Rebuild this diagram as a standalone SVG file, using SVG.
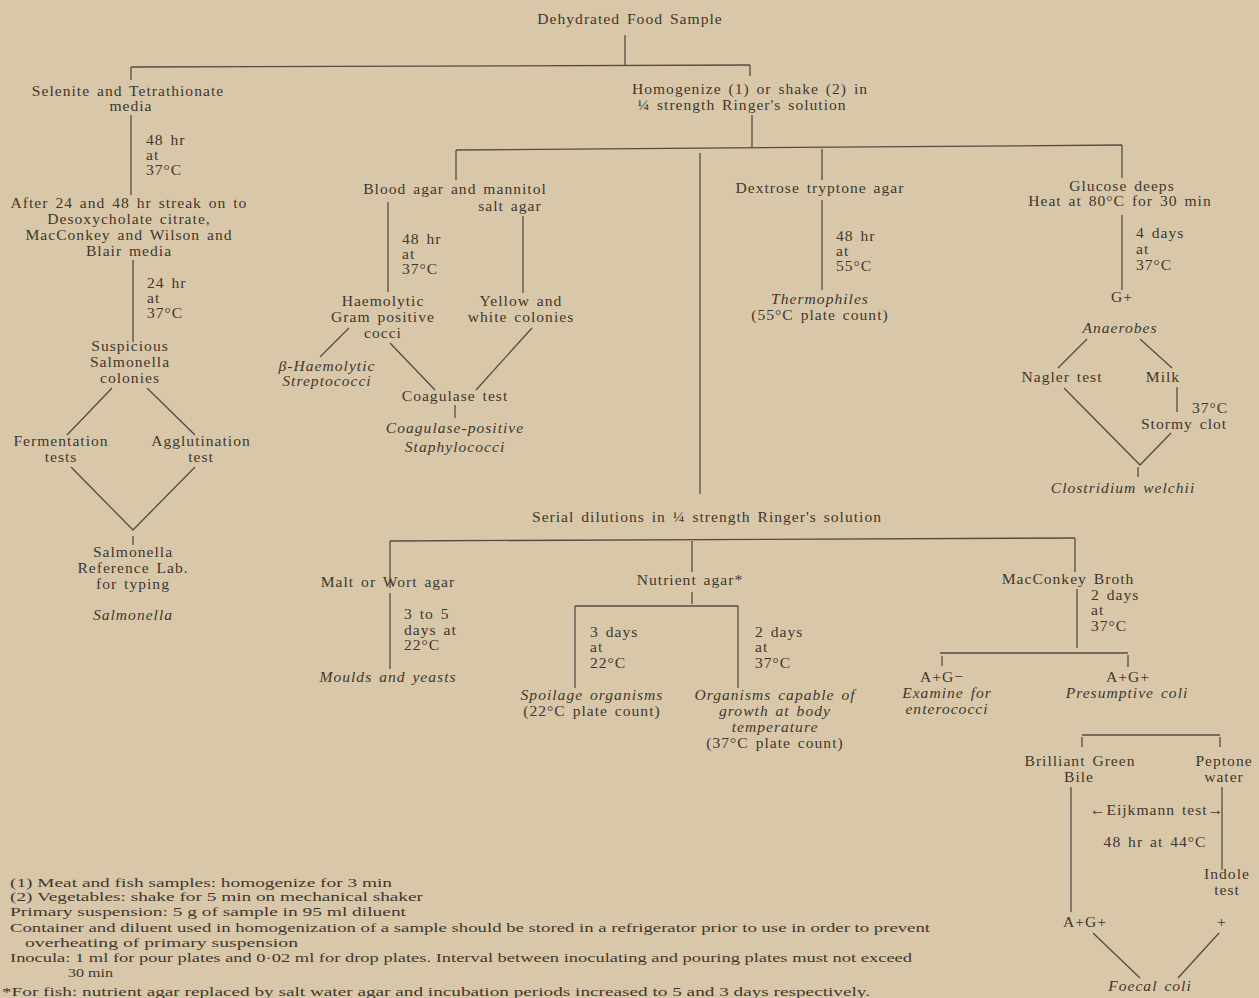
<svg xmlns="http://www.w3.org/2000/svg" width="1259" height="998" viewBox="0 0 1259 998">
<style>
text{font-family:"Liberation Serif","DejaVu Serif",serif;font-size:15.6px;fill:#41372e;letter-spacing:1px;word-spacing:2px}
.m{text-anchor:middle}
.i{font-style:italic}
.f{font-size:13.5px;letter-spacing:0;word-spacing:0}
#connectors line,#connectors polyline{stroke:#554b42;stroke-width:1.3;fill:none}
</style>
<rect width="1259" height="998" fill="#d8c8a9"/>
<g id="connectors">
<line x1="625" y1="35" x2="625" y2="66"/>
<line x1="131" y1="67" x2="750" y2="65"/>
<line x1="131" y1="67" x2="131" y2="80"/>
<line x1="750" y1="65" x2="750" y2="76"/>
<line x1="131" y1="115" x2="131" y2="195"/>
<line x1="133" y1="260" x2="133" y2="342"/>
<line x1="112" y1="388" x2="67" y2="435"/>
<line x1="147" y1="388" x2="195" y2="435"/>
<polyline points="71,467 133,530 195,467"/>
<line x1="133" y1="536" x2="133" y2="545"/>
<line x1="752" y1="115" x2="752" y2="147"/>
<line x1="456" y1="150" x2="1122" y2="145"/>
<line x1="456" y1="150" x2="456" y2="180"/>
<line x1="700" y1="153" x2="700" y2="494"/>
<line x1="822" y1="149" x2="822" y2="180"/>
<line x1="1122" y1="145" x2="1122" y2="178"/>
<line x1="388" y1="202" x2="388" y2="292"/>
<line x1="523" y1="216" x2="523" y2="293"/>
<line x1="349" y1="328" x2="320" y2="357"/>
<line x1="390" y1="343" x2="435" y2="390"/>
<line x1="532" y1="328" x2="476" y2="390"/>
<line x1="455" y1="405" x2="455" y2="418"/>
<line x1="822" y1="200" x2="822" y2="290"/>
<line x1="1122" y1="215" x2="1122" y2="290"/>
<line x1="1087" y1="339" x2="1058" y2="368"/>
<line x1="1140" y1="339" x2="1172" y2="368"/>
<line x1="1177" y1="387" x2="1177" y2="412"/>
<polyline points="1064,388 1140,465 1171,433"/>
<line x1="1138" y1="467" x2="1138" y2="477"/>
<line x1="390" y1="541" x2="1075" y2="538"/>
<line x1="390" y1="541" x2="390" y2="588"/>
<line x1="692" y1="541" x2="692" y2="572"/>
<line x1="1075" y1="538" x2="1075" y2="572"/>
<line x1="390" y1="593" x2="390" y2="669"/>
<line x1="692" y1="592" x2="692" y2="604"/>
<line x1="575" y1="606" x2="738" y2="606"/>
<line x1="575" y1="606" x2="575" y2="688"/>
<line x1="738" y1="606" x2="738" y2="688"/>
<line x1="1077" y1="589" x2="1077" y2="648"/>
<line x1="940" y1="653" x2="1128" y2="653"/>
<line x1="942" y1="656" x2="942" y2="666"/>
<line x1="1128" y1="655" x2="1128" y2="667"/>
<line x1="1082" y1="735" x2="1220" y2="735"/>
<line x1="1082" y1="737" x2="1082" y2="747"/>
<line x1="1220" y1="737" x2="1220" y2="747"/>
<line x1="1071" y1="787" x2="1071" y2="912"/>
<line x1="1222" y1="787" x2="1222" y2="870"/>
<line x1="1093" y1="933" x2="1140" y2="978"/>
<line x1="1219" y1="933" x2="1178" y2="978"/>
</g>
<g id="n-sample"><text class="m" x="630" y="24">Dehydrated Food Sample</text></g>
<g id="n-selenite"><text class="m" x="128" y="96">Selenite and Tetrathionate</text><text class="m" x="131" y="111">media</text></g>
<g id="l-48-37a"><text x="146" y="145">48 hr</text><text x="146" y="160">at</text><text x="146" y="175">37°C</text></g>
<g id="n-streak"><text class="m" x="129" y="208">After 24 and 48 hr streak on to</text><text class="m" x="129" y="224">Desoxycholate citrate,</text><text class="m" x="129" y="240">MacConkey and Wilson and</text><text class="m" x="129" y="256">Blair media</text></g>
<g id="l-24-37"><text x="147" y="288">24 hr</text><text x="147" y="303">at</text><text x="147" y="318">37°C</text></g>
<g id="n-suspicious"><text class="m" x="130" y="351">Suspicious</text><text class="m" x="130" y="367">Salmonella</text><text class="m" x="130" y="383">colonies</text></g>
<g id="n-ferment"><text class="m" x="61" y="446">Fermentation</text><text class="m" x="61" y="462">tests</text></g>
<g id="n-agglut"><text class="m" x="201" y="446">Agglutination</text><text class="m" x="201" y="462">test</text></g>
<g id="n-reflab"><text class="m" x="133" y="557">Salmonella</text><text class="m" x="133" y="573">Reference Lab.</text><text class="m" x="133" y="589">for typing</text><text class="m i" x="133" y="620">Salmonella</text></g>
<g id="n-homog"><text class="m" x="750" y="94">Homogenize (1) or shake (2) in</text><text class="m" x="742" y="110">¼ strength Ringer's solution</text></g>
<g id="n-blood"><text class="m" x="455" y="194">Blood agar and mannitol</text><text class="m" x="510" y="211">salt agar</text></g>
<g id="l-48-37b"><text x="402" y="244">48 hr</text><text x="402" y="259">at</text><text x="402" y="274">37°C</text></g>
<g id="n-haemo"><text class="m" x="383" y="306">Haemolytic</text><text class="m" x="383" y="322">Gram positive</text><text class="m" x="383" y="338">cocci</text></g>
<g id="n-yellow"><text class="m" x="521" y="306">Yellow and</text><text class="m" x="521" y="322">white colonies</text></g>
<g id="n-strep"><text class="m i" x="327" y="371">β-Haemolytic</text><text class="m i" x="327" y="386">Streptococci</text></g>
<g id="n-coag"><text class="m" x="455" y="401">Coagulase test</text></g>
<g id="n-staph"><text class="m i" x="455" y="433">Coagulase-positive</text><text class="m i" x="455" y="452">Staphylococci</text></g>
<g id="n-dextrose"><text class="m" x="820" y="193">Dextrose tryptone agar</text></g>
<g id="l-48-55"><text x="836" y="241">48 hr</text><text x="836" y="256">at</text><text x="836" y="271">55°C</text></g>
<g id="n-thermo"><text class="m i" x="820" y="304">Thermophiles</text><text class="m" x="820" y="320">(55°C plate count)</text></g>
<g id="n-glucose"><text class="m" x="1122" y="191">Glucose deeps</text><text class="m" x="1120" y="206">Heat at 80°C for 30 min</text></g>
<g id="l-4-37"><text x="1136" y="238">4 days</text><text x="1136" y="254">at</text><text x="1136" y="270">37°C</text></g>
<g id="n-gplus"><text class="m" x="1122" y="302">G+</text></g>
<g id="n-anaerobes"><text class="m i" x="1120" y="333">Anaerobes</text></g>
<g id="n-nagler"><text class="m" x="1062" y="382">Nagler test</text></g>
<g id="n-milk"><text class="m" x="1163" y="382">Milk</text></g>
<g id="l-37-milk"><text x="1192" y="413">37°C</text></g>
<g id="n-stormy"><text class="m" x="1184" y="429">Stormy clot</text></g>
<g id="n-clost"><text class="m i" x="1123" y="493">Clostridium welchii</text></g>
<g id="n-serial"><text class="m" x="707" y="522">Serial dilutions in ¼ strength Ringer's solution</text></g>
<g id="n-malt"><text class="m" x="388" y="587">Malt or Wort agar</text></g>
<g id="l-3-5"><text x="404" y="619">3 to 5</text><text x="404" y="635">days at</text><text x="404" y="650">22°C</text></g>
<g id="n-moulds"><text class="m i" x="388" y="682">Moulds and yeasts</text></g>
<g id="n-nutrient"><text class="m" x="690" y="585">Nutrient agar*</text></g>
<g id="l-3-22"><text x="590" y="637">3 days</text><text x="590" y="652">at</text><text x="590" y="668">22°C</text></g>
<g id="l-2-37a"><text x="755" y="637">2 days</text><text x="755" y="652">at</text><text x="755" y="668">37°C</text></g>
<g id="n-spoil"><text class="m i" x="592" y="700">Spoilage organisms</text><text class="m" x="592" y="716">(22°C plate count)</text></g>
<g id="n-body"><text class="m i" x="775" y="700">Organisms capable of</text><text class="m i" x="775" y="716">growth at body</text><text class="m i" x="775" y="732">temperature</text><text class="m" x="775" y="748">(37°C plate count)</text></g>
<g id="n-macconkey"><text class="m" x="1068" y="584">MacConkey Broth</text></g>
<g id="l-2-37b"><text x="1091" y="600">2 days</text><text x="1091" y="615">at</text><text x="1091" y="631">37°C</text></g>
<g id="n-agminus"><text class="m" x="942" y="682">A+G−</text><text class="m i" x="947" y="698">Examine for</text><text class="m i" x="947" y="714">enterococci</text></g>
<g id="n-agplus"><text class="m" x="1128" y="682">A+G+</text><text class="m i" x="1127" y="698">Presumptive coli</text></g>
<g id="n-bgb"><text class="m" x="1080" y="766">Brilliant Green</text><text class="m" x="1079" y="782">Bile</text></g>
<g id="n-peptone"><text class="m" x="1224" y="766">Peptone</text><text class="m" x="1224" y="782">water</text></g>
<g id="l-eijkmann"><text class="m" x="1157" y="815">←Eijkmann test→</text><text class="m" x="1155" y="847">48 hr at 44°C</text></g>
<g id="n-indole"><text class="m" x="1227" y="879">Indole</text><text class="m" x="1227" y="895">test</text></g>
<g id="n-agplus2"><text class="m" x="1085" y="927">A+G+</text></g>
<g id="n-plus"><text class="m" x="1222" y="927">+</text></g>
<g id="n-foecal"><text class="m i" x="1150" y="991">Foecal coli</text></g>
<g id="footnotes">
<text class="f" x="10" y="887" textLength="382" lengthAdjust="spacingAndGlyphs">(1) Meat and fish samples: homogenize for 3 min</text>
<text class="f" x="10" y="901" textLength="413" lengthAdjust="spacingAndGlyphs">(2) Vegetables: shake for 5 min on mechanical shaker</text>
<text class="f" x="10" y="916" textLength="396" lengthAdjust="spacingAndGlyphs">Primary suspension: 5 g of sample in 95 ml diluent</text>
<text class="f" x="10" y="932" textLength="920" lengthAdjust="spacingAndGlyphs">Container and diluent used in homogenization of a sample should be stored in a refrigerator prior to use in order to prevent</text>
<text class="f" x="25" y="947" textLength="273" lengthAdjust="spacingAndGlyphs">overheating of primary suspension</text>
<text class="f" x="10" y="962" textLength="902" lengthAdjust="spacingAndGlyphs">Inocula: 1 ml for pour plates and 0·02 ml for drop plates. Interval between inoculating and pouring plates must not exceed</text>
<text class="f" x="68" y="977" textLength="45" lengthAdjust="spacingAndGlyphs">30 min</text>
<text class="f" x="2" y="996" textLength="868" lengthAdjust="spacingAndGlyphs">*For fish: nutrient agar replaced by salt water agar and incubation periods increased to 5 and 3 days respectively.</text>
</g>
</svg>
